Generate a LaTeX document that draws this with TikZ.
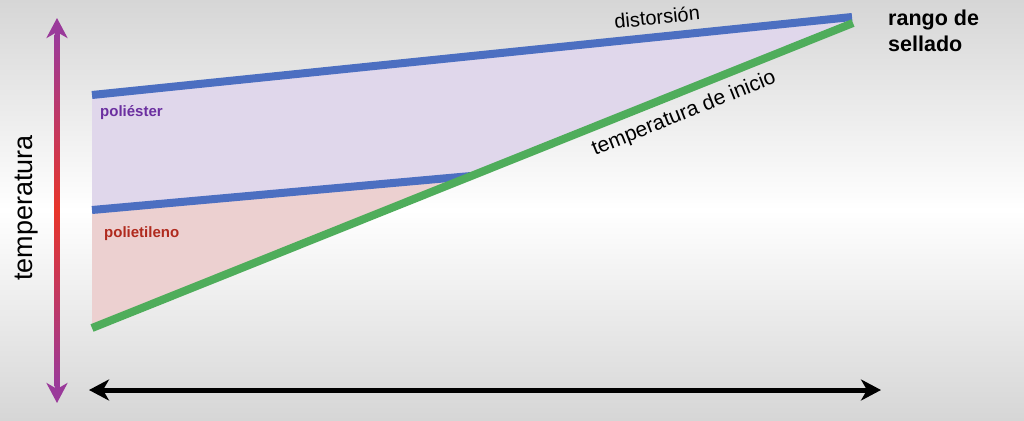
\documentclass[tikz,border=0pt]{standalone}
\usepackage{fontspec}
\setmainfont{Liberation Sans}
\usepackage{tikz}
\usetikzlibrary{arrows.meta, positioning, calc}

\definecolor{bgGray}{HTML}{D6D6D6}
\definecolor{lineBlue}{HTML}{4C6FC1}
\definecolor{lineGreen}{HTML}{4FAD5B}
\definecolor{fillLav}{HTML}{E0D7EB}
\definecolor{fillPink}{HTML}{ECD0D0}
\definecolor{txtPurple}{HTML}{6B2FA0}
\definecolor{txtRed}{HTML}{B02A1E}
\definecolor{axPurple}{HTML}{9A3A9A}
\definecolor{axRed}{HTML}{E8362A}

\begin{document}
\begin{tikzpicture}[x=1pt, y=-1pt, >=Stealth,
  band/.style={line width=8pt},
  axis/.style={line width=5pt,
    {Stealth[length=20pt,width=21pt,inset=6pt]}-{Stealth[length=20pt,width=21pt,inset=6pt]}},
  lbl/.style={inner sep=0pt,font=\fontsize{20}{22}\selectfont},
  tag/.style={inner sep=0pt,font=\fontsize{15}{17}\selectfont\bfseries}]
  % background
  \shade[top color=bgGray, bottom color=bgGray, middle color=white]
    (0,0) rectangle (1024,420);
  \useasboundingbox (0,0) rectangle (1024,420);

  % corner points of the sealing window
  \coordinate (pesL) at (92,95);
  \coordinate (pesR) at (852,17);
  \coordinate (peL) at (92,210);
  \coordinate (peX) at (471,176);
  \coordinate (iniL) at (92,328);
  \coordinate (iniR) at (853,23);

  % areas
  \fill[fillLav] (pesL) -- (pesR) -- (iniR) -- (peX) -- (peL) -- cycle;
  \fill[fillPink] (peL) -- (peX) -- (iniL) -- cycle;

  % limits
  \draw[band,lineBlue] (pesL) -- (pesR);
  \draw[band,lineBlue] (peL) -- (peX);
  \draw[band,lineGreen] (iniL) -- (iniR);

  % axes
  \coordinate (tTop) at (57,18);
  \coordinate (tBot) at (57,403);
  \coordinate (hL) at (89,390);
  \coordinate (hR) at (881,390);
  \draw[axis,axPurple] (tTop) -- (tBot);
  \shade[top color=axPurple, bottom color=axPurple, middle color=axRed]
    ($(tTop)+(-2.5,17)$) rectangle ($(tBot)+(2.5,-17)$);
  \draw[axis,black] (hL) -- (hR);

  % labels
  \node[lbl,font=\fontsize{27}{30}\selectfont,rotate=90] (temp) at (27,208) {temperatura};
  \node[lbl,rotate=5.9] (dist) at (657,17) {distorsión};
  \node[lbl,font=\fontsize{21}{23}\selectfont,rotate=21.9] (ini) at (684,114) {temperatura de inicio};
  \node[lbl,font=\fontsize{21.5}{26}\selectfont\bfseries,align=left,anchor=west] (rango) at (888,31) {rango de\\sellado};
  \node[tag,txtPurple,anchor=west] (pes) at (100,113) {poliéster};
  \node[tag,txtRed,anchor=west] (pe) at (104,234) {polietileno};
\end{tikzpicture}
\end{document}
